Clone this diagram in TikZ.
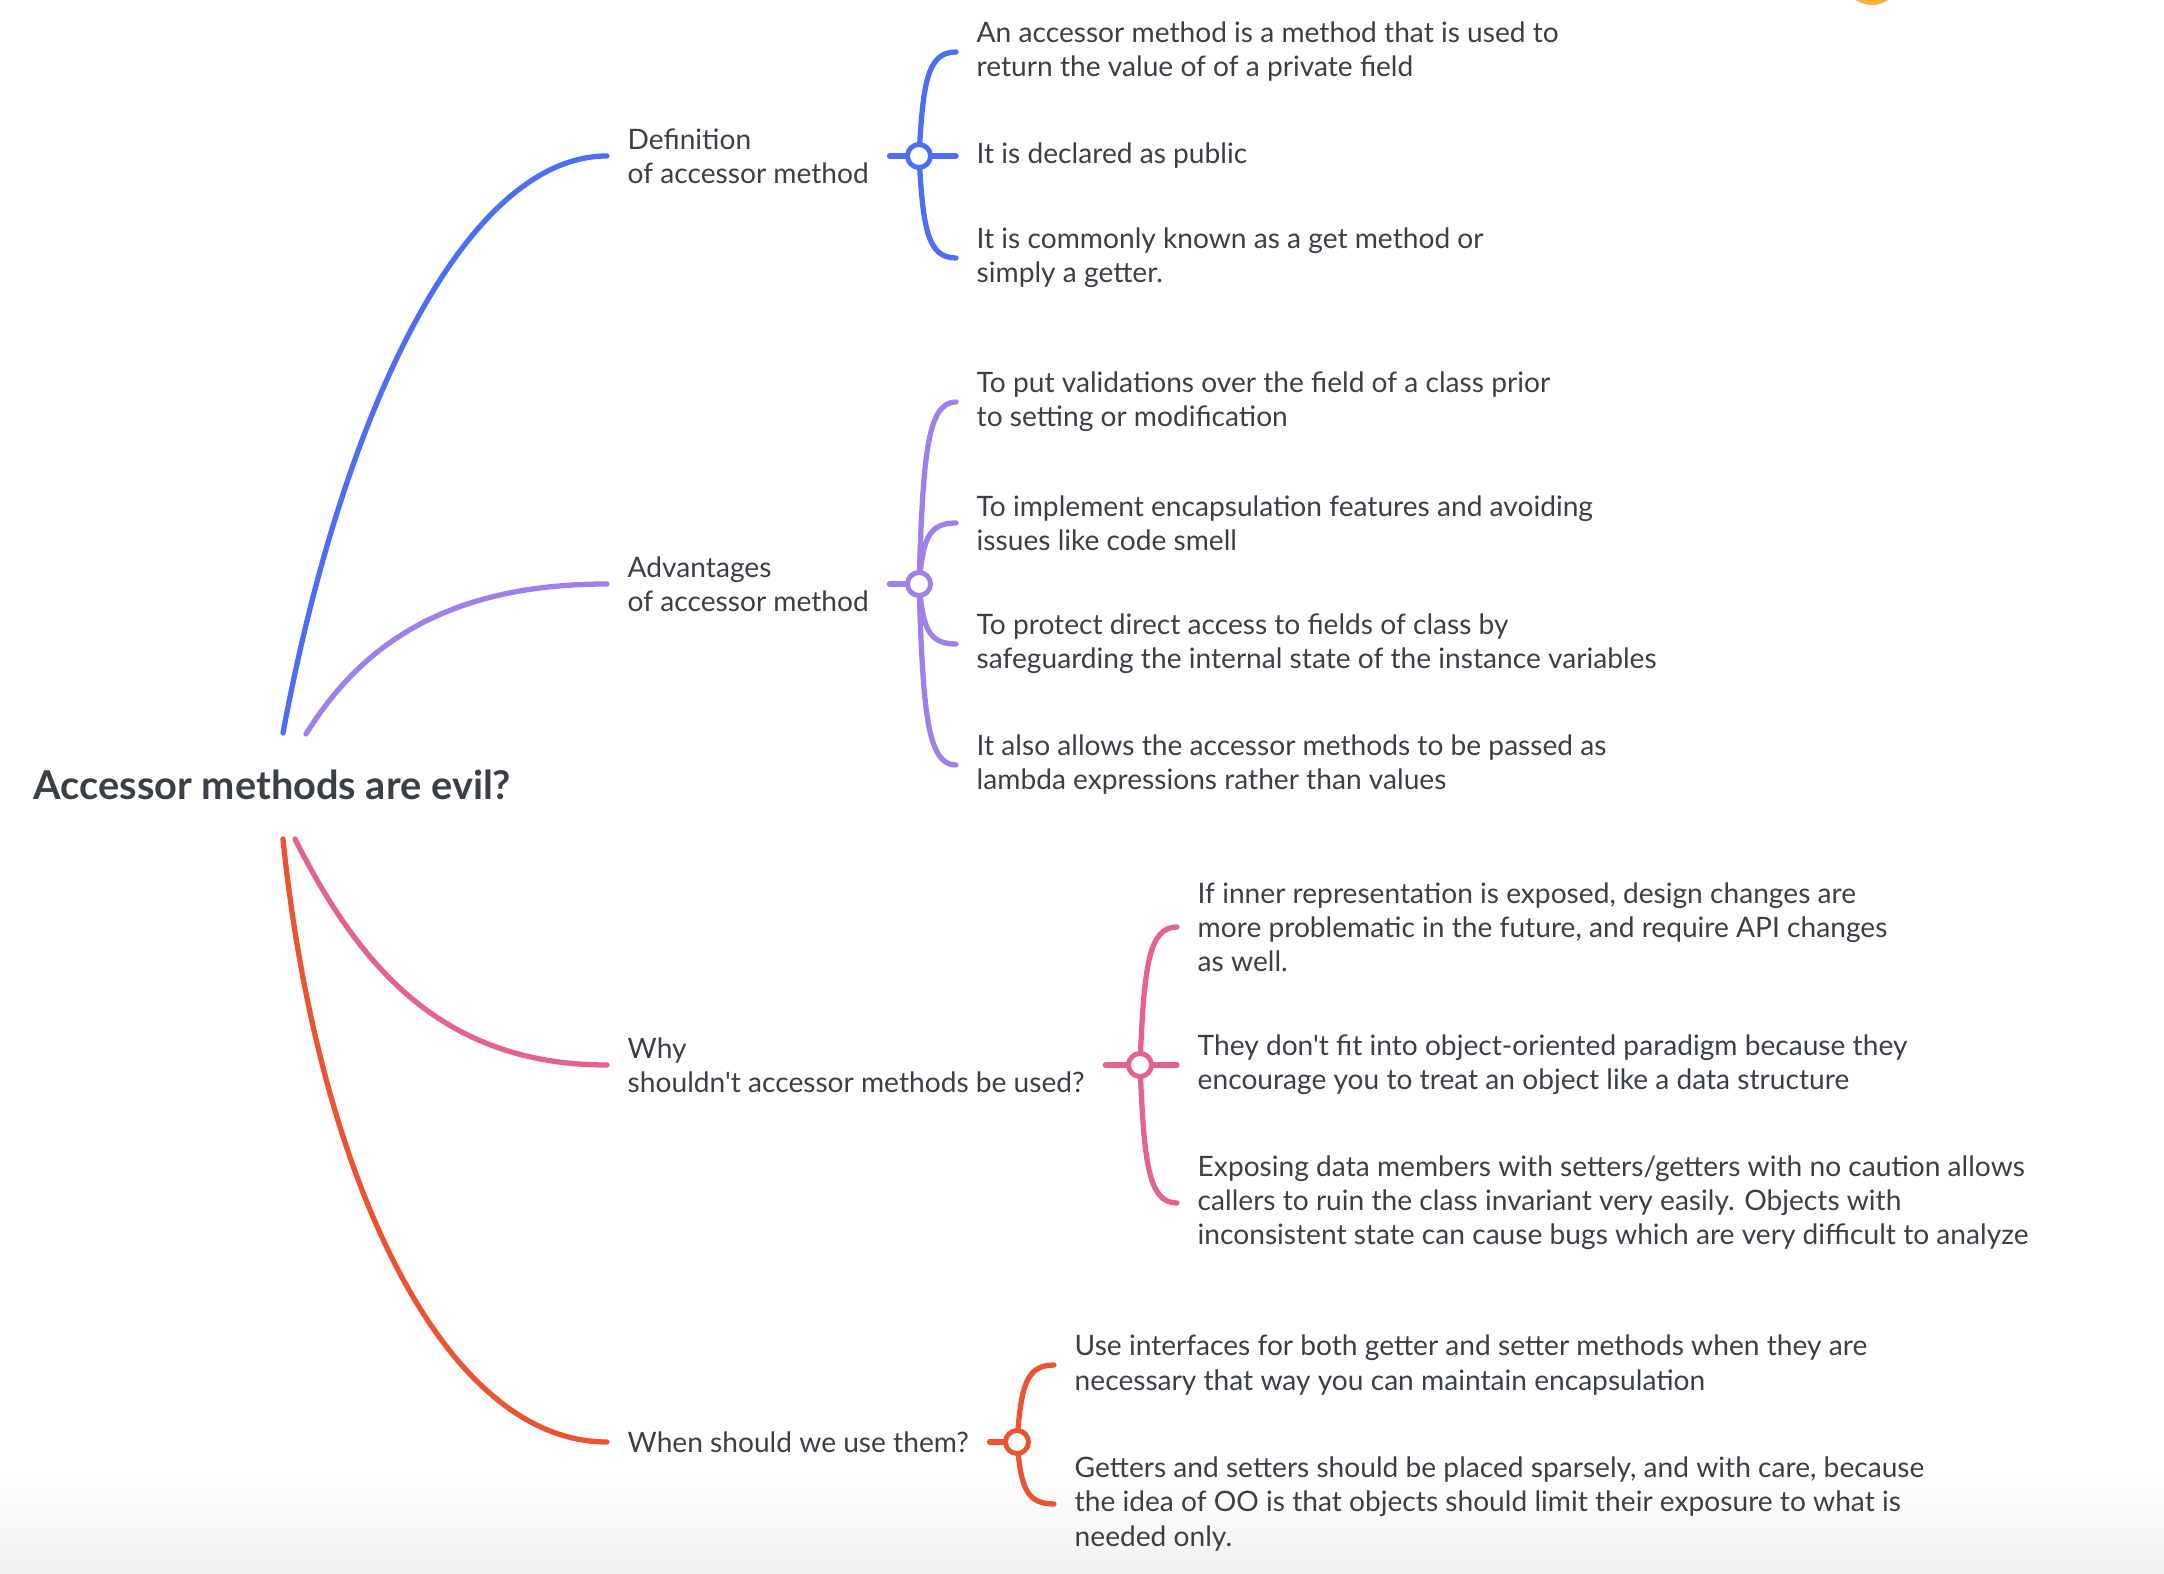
\documentclass[tikz,border=0pt]{standalone}
\usepackage{fontspec}
\setmainfont{Lato}[Ligatures=TeXOff]
\usetikzlibrary{calc}
\definecolor{cblue}{HTML}{4C6EF5}
\definecolor{cpurple}{HTML}{9F7FEA}
\definecolor{cpink}{HTML}{E3628F}
\definecolor{cred}{HTML}{EB5331}
\definecolor{txt}{HTML}{3B4046}
\definecolor{sun}{HTML}{F6B13E}
\pgfdeclarelayer{back}\pgfdeclarelayer{bg}\pgfsetlayers{back,bg,main}
\tikzset{
  rootnode/.style={font=\fontsize{11.3}{13.5}\selectfont\bfseries, text=txt, inner sep=0pt, anchor=west},
  topic/.style={font=\fontsize{8.0}{9.7}\selectfont, text=txt, align=left, inner xsep=0.2cm, inner ysep=0pt, anchor=west},
  hub/.style={circle, draw=#1, fill=white, line width=1.4pt, minimum size=0.23cm, inner sep=0pt},
  branch/.style={line width=1.5pt, line cap=round},
}
\newcommand\bracelink[3]{%
  \draw[branch,#1] (#2.center) .. controls ($(#2.center)!0.7!(#2.center |- #3.west)+(4,0)$) and ($(#2.center |- #3.west)+(8,0)$) .. (#3.west);}
\begin{document}
\begin{tikzpicture}[x=0.01cm,y=-0.01cm]
\useasboundingbox (0,0) rectangle (2164,1574);
\begin{pgfonlayer}{back}
\fill[white] (0,0) rectangle (2164,1574);
\shade[top color=white, bottom color=black!5] (0,1470) rectangle (2164,1574);
\fill[sun] (1872,-24) circle (29);
\end{pgfonlayer}

% root
\node[rootnode] (root) at (33,785) {Accessor methods are evil?};
\coordinate (r1) at (283,733);
\coordinate (r2) at (306,734);
\coordinate (r3) at (295,839);
\coordinate (r4) at (283,839);

% main topics
\node[topic] (def) at (607,156) {Definition\\of accessor method};
\node[topic] (adv) at (607,584) {Advantages\\of accessor method};
\node[topic] (why) at (607,1065) {Why\\shouldn't accessor methods be used?};
\node[topic] (when) at (607,1442) {When should we use them?};

% hubs
\node[hub=cblue] (h1) at (919,156) {};
\node[hub=cpurple] (h2) at (919,584) {};
\node[hub=cpink] (h3) at (1140,1065) {};
\node[hub=cred] (h4) at (1017,1442) {};

% blue children
\node[topic] (b1) at (956,52) {An accessor method is a method that is used to\\return the value of of a private field};
\node[topic] (b2) at (956,156) {It is declared as public};
\node[topic] (b3) at (956,258) {It is commonly known as a get method or\\simply a getter.};

% purple children
\node[topic] (a1) at (956,402) {To put validations over the field of a class prior\\to setting or modification};
\node[topic] (a2) at (956,523) {To implement encapsulation features and avoiding\\issues like code smell};
\node[topic] (a3) at (956,644) {To protect direct access to fields of class by\\safeguarding the internal state of the instance variables};
\node[topic] (a4) at (956,765) {It also allows the accessor methods to be passed as\\lambda expressions rather than values};

% pink children
\node[topic] (p1) at (1177,927) {If inner representation is exposed, design changes are\\more problematic in the future, and require API changes\\as well.};
\node[topic] (p2) at (1177,1065) {They don't fit into object-oriented paradigm because they\\encourage you to treat an object like a data structure};
\node[topic] (p3) at (1177,1203) {Exposing data members with setters/getters with no caution allows\\callers to ruin the class invariant very easily. Objects with\\inconsistent state can cause bugs which are very difficult to analyze};

% red children
\node[topic] (w1) at (1054,1365) {Use interfaces for both getter and setter methods when they are\\necessary that way you can maintain encapsulation};
\node[topic] (w2) at (1054,1504) {Getters and setters should be placed sparsely, and with care, because\\the idea of OO is that objects should limit their exposure to what is\\needed only.};

\begin{pgfonlayer}{bg}
% root branches
\draw[branch,cblue] (r1) .. controls (345,400) and (469,156) .. (def.west);
\draw[branch,cpurple] (r2) .. controls (359,649) and (442,584) .. (adv.west);
\draw[branch,cpink] (r3) .. controls (359,966) and (442,1065) .. (why.west);
\draw[branch,cred] (r4) .. controls (317,1173) and (442,1442) .. (when.west);
% topic to hub
\draw[branch,cblue] (def.east) -- (h1.center);
\draw[branch,cpurple] (adv.east) -- (h2.center);
\draw[branch,cpink] (why.east) -- (h3.center);
\draw[branch,cred] (when.east) -- (h4.center);
% hub to children
\bracelink{cblue}{h1}{b1}
\draw[branch,cblue] (h1.center) -- (b2.west);
\bracelink{cblue}{h1}{b3}
\bracelink{cpurple}{h2}{a1}
\bracelink{cpurple}{h2}{a2}
\bracelink{cpurple}{h2}{a3}
\bracelink{cpurple}{h2}{a4}
\bracelink{cpink}{h3}{p1}
\draw[branch,cpink] (h3.center) -- (p2.west);
\bracelink{cpink}{h3}{p3}
\bracelink{cred}{h4}{w1}
\bracelink{cred}{h4}{w2}
\end{pgfonlayer}
\end{tikzpicture}
\end{document}
